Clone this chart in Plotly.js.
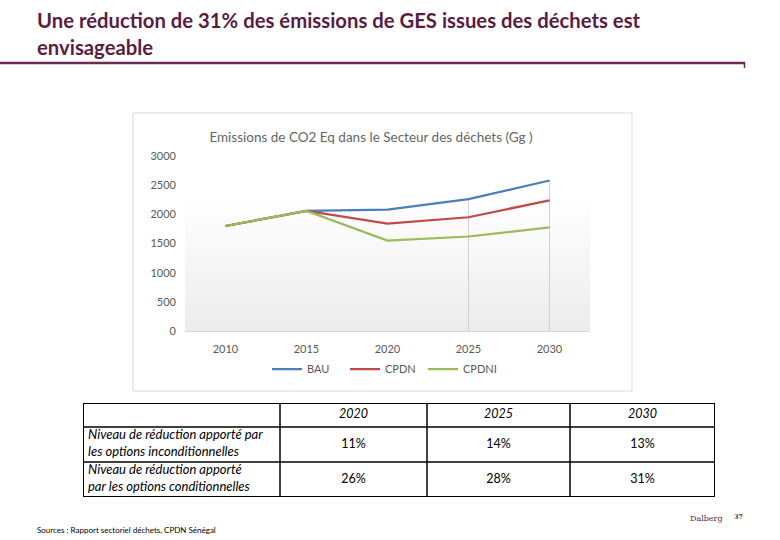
<!DOCTYPE html>
<html>
<head>
<meta charset="utf-8">
<script src="https://cdn.plot.ly/plotly-3.0.1.min.js"></script>
<style>html,body{margin:0;padding:0;background:#fff;}#chart{width:780px;height:540px;}</style>
</head>
<body>
<div id="chart"></div>
<script>
const years = ['2010', '2015', '2020', '2025', '2030'];
const bau = [1800, 2060, 2080, 2260, 2580];
const cpdn = [1800, 2060, 1840, 1950, 2240];
const cpdni = [1800, 2060, 1550, 1620, 1775];
const seriesNames = ['BAU', 'CPDN', 'CPDNI'];
const dropYears = ['2025', '2030'];
const tableYears = ['2020', '2025', '2030'];
const rowLabels = ['Niveau de réduction apporté par<br>les options inconditionnelles',
                   'Niveau de réduction apporté<br>par les options conditionnelles'];
const uncondPct = ['11%', '14%', '13%'];
const condPct = ['26%', '28%', '31%'];
const yTicks = [0, 500, 1000, 1500, 2000, 2500, 3000];

const W = 780, H = 540;
const px = v => v / W;
const py = v => 1 - v / H;

const colors = ['#4A7EBB', '#BE4B48', '#9BBB59'];
const series = [bau, cpdn, cpdni];
const tickFont = {family: 'Lato, sans-serif', size: 11, color: '#595959'};

// drop lines built from BAU values
const dx = [], dy = [];
dropYears.forEach(yr => {
  const i = years.indexOf(yr);
  dx.push(yr, yr, null);
  dy.push(0, bau[i], null);
});

const traces = [{
  x: dx, y: dy, type: 'scatter', mode: 'lines',
  line: {color: '#d0d0d0', width: 1}, showlegend: false, hoverinfo: 'skip'
}];
series.forEach((s, k) => {
  traces.push({
    x: years, y: s, name: seriesNames[k], type: 'scatter', mode: 'lines',
    line: {color: colors[k], width: 2.25}
  });
});

// ---- table drawn on its own axes (x3 / y3) ----
const colEdges = [0, 197, 344, 487, 632];
const rowEdges = [0, 24, 59, 94];
const colMid = i => (colEdges[i] + colEdges[i + 1]) / 2;
const rowMid = j => (rowEdges[j] + rowEdges[j + 1]) / 2;
const tFont = {family: 'Lato, sans-serif', size: 12.5, color: '#000'};

traces.push({
  type: 'scatter', mode: 'text', xaxis: 'x3', yaxis: 'y3', showlegend: false, hoverinfo: 'skip',
  x: tableYears.map((t, i) => colMid(i + 1)), y: tableYears.map(() => rowMid(0)),
  text: tableYears.map(t => '<i>' + t + '</i>'), textposition: 'middle center', textfont: tFont
});
traces.push({
  type: 'scatter', mode: 'text', xaxis: 'x3', yaxis: 'y3', showlegend: false, hoverinfo: 'skip',
  x: rowLabels.map(() => colEdges[0] + 5), y: rowLabels.map((r, j) => rowMid(j + 1)),
  text: rowLabels.map(r => '<i>' + r + '</i>'), textposition: 'middle right',
  textfont: {family: 'Lato, sans-serif', size: 13, color: '#000'}
});
[uncondPct, condPct].forEach((row, j) => {
  traces.push({
    type: 'scatter', mode: 'text', xaxis: 'x3', yaxis: 'y3', showlegend: false, hoverinfo: 'skip',
    x: row.map((v, i) => colMid(i + 1)), y: row.map(() => rowMid(j + 1)),
    text: row, textposition: 'middle center', textfont: tFont
  });
});

const tableShapes = [];
colEdges.forEach((c, i) => tableShapes.push({
  type: 'line', xref: 'x3', yref: 'y3', x0: c, x1: c, y0: rowEdges[0], y1: rowEdges[rowEdges.length - 1],
  line: {color: '#000', width: (i === 0 || i === colEdges.length - 1) ? 2 : 1.5}
}));
rowEdges.forEach((r, j) => tableShapes.push({
  type: 'line', xref: 'x3', yref: 'y3', x0: colEdges[0], x1: colEdges[colEdges.length - 1], y0: r, y1: r,
  line: {color: '#000', width: (j === 0 || j === rowEdges.length - 1) ? 2 : 1.5}
}));

const gradSvg = '<svg xmlns="http://www.w3.org/2000/svg" width="10" height="100" preserveAspectRatio="none">' +
  '<defs><linearGradient id="g" x1="0" y1="0" x2="0" y2="1">' +
  '<stop offset="0" stop-color="#ffffff"/><stop offset="1" stop-color="#ececec"/></linearGradient></defs>' +
  '<rect width="10" height="100" fill="url(#g)"/></svg>';
const gradUri = 'data:image/svg+xml;base64,' + btoa(gradSvg);

const titleFont = {family: 'Lato, sans-serif', size: 20.3, weight: 700, color: '#5a1d42'};

const layout = {
  width: W, height: H,
  margin: {l: 0, r: 0, t: 0, b: 0},
  paper_bgcolor: '#fff', plot_bgcolor: 'rgba(0,0,0,0)',
  showlegend: true,
  title: {
    text: 'Emissions de CO2 Eq dans le Secteur des déchets (Gg )',
    x: px(371), xanchor: 'center', xref: 'paper',
    y: py(137), yanchor: 'middle', yref: 'container',
    font: {family: 'Lato, sans-serif', size: 13.5, color: '#666666'}
  },
  xaxis: {
    domain: [px(185), px(590)], type: 'category',
    categoryorder: 'array', categoryarray: years, range: [-0.5, years.length - 0.5],
    showgrid: false, zeroline: false, showline: true, linecolor: '#d9d9d9', linewidth: 1,
    ticks: '', ticklabelstandoff: 8, tickfont: tickFont
  },
  yaxis: {
    domain: [py(331), py(156)], range: [0, 3000],
    tickvals: yTicks, ticktext: yTicks.map(String),
    showgrid: false, zeroline: false, showline: false, ticks: '', ticklabelstandoff: 8,
    tickfont: tickFont
  },
  xaxis3: {
    domain: [px(83), px(715)], range: [colEdges[0], colEdges[colEdges.length - 1]], anchor: 'y3',
    visible: false, fixedrange: true
  },
  yaxis3: {
    domain: [py(497), py(403)], range: [rowEdges[rowEdges.length - 1], rowEdges[0]], anchor: 'x3',
    visible: false, fixedrange: true
  },
  legend: {
    orientation: 'h', x: px(384), xanchor: 'center', y: py(369), yanchor: 'middle',
    font: tickFont, itemwidth: 30, entrywidth: 33, tracegroupgap: 0, bgcolor: 'rgba(0,0,0,0)'
  },
  images: [{
    source: gradUri, xref: 'paper', yref: 'paper',
    x: px(185), y: py(197), sizex: px(590) - px(185), sizey: (331 - 197) / H,
    xanchor: 'left', yanchor: 'top', sizing: 'stretch', layer: 'below'
  }],
  shapes: [
    {type: 'rect', xref: 'paper', yref: 'paper', x0: px(133), x1: px(632), y0: py(391), y1: py(113),
     line: {color: '#d9d9d9', width: 1}, fillcolor: 'rgba(0,0,0,0)', layer: 'below'},
    {type: 'line', xref: 'paper', yref: 'paper', x0: 0, x1: px(745), y0: py(63), y1: py(63),
     line: {color: '#6b2a55', width: 2.5}},
    {type: 'line', xref: 'paper', yref: 'paper', x0: px(744.5), x1: px(744.5), y0: py(62), y1: py(68),
     line: {color: '#6b2a55', width: 1.5}}
  ].concat(tableShapes),
  annotations: [
    {text: 'Une réduction de 31% des émissions de GES issues des déchets est', xref: 'paper', yref: 'paper',
     x: px(35), y: py(20), xanchor: 'left', yanchor: 'middle', showarrow: false, font: titleFont},
    {text: 'envisageable', xref: 'paper', yref: 'paper',
     x: px(35), y: py(47), xanchor: 'left', yanchor: 'middle', showarrow: false, font: titleFont},
    {text: 'Sources : Rapport sectoriel déchets, CPDN Sénégal', xref: 'paper', yref: 'paper',
     x: px(35), y: py(530), xanchor: 'left', yanchor: 'middle', showarrow: false,
     font: {family: 'Lato, sans-serif', size: 8, color: '#000'}},
    {text: 'Dalberg', xref: 'paper', yref: 'paper',
     x: px(706), y: py(518), xanchor: 'center', yanchor: 'middle', showarrow: false,
     font: {family: 'DejaVu Serif, serif', size: 8, color: '#5a1d42'}},
    {text: '<b>37</b>', xref: 'paper', yref: 'paper',
     x: px(738), y: py(517), xanchor: 'center', yanchor: 'middle', showarrow: false,
     font: {family: 'DejaVu Serif, serif', size: 6.5, color: '#333'}}
  ]
};

Plotly.newPlot('chart', traces, layout, {displayModeBar: false, staticPlot: true});
</script>
</body>
</html>
